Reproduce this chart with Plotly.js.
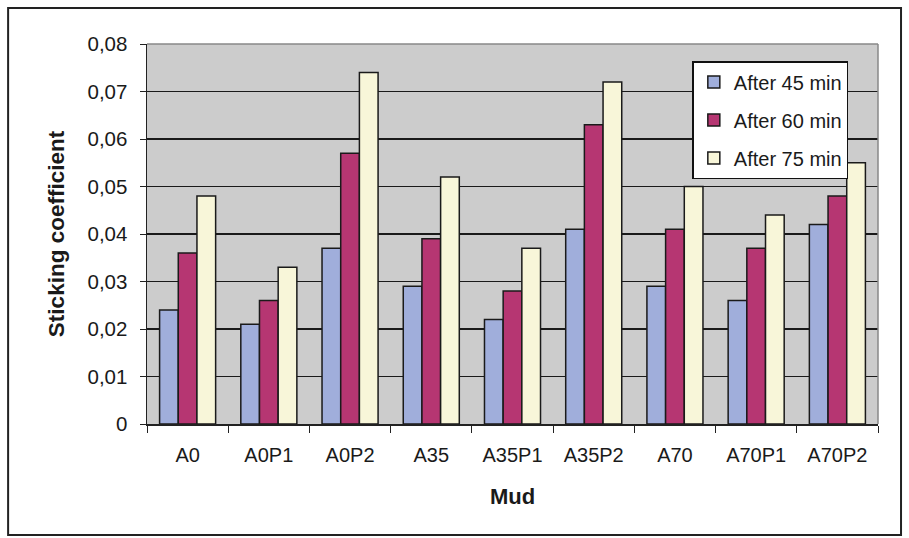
<!DOCTYPE html>
<html><head><meta charset="utf-8">
<script src="https://cdn.plot.ly/plotly-3.0.1.min.js"></script>
<style>html,body{margin:0;padding:0;background:#fff}#c{width:909px;height:538px}</style>
</head><body><div id="c"></div>
<script>
const categories = ["A0","A0P1","A0P2","A35","A35P1","A35P2","A70","A70P1","A70P2"];
const after45 = [0.024,0.021,0.037,0.029,0.022,0.041,0.029,0.026,0.042];
const after60 = [0.036,0.026,0.057,0.039,0.028,0.063,0.041,0.037,0.048];
const after75 = [0.048,0.033,0.074,0.052,0.037,0.072,0.050,0.044,0.055];
const seriesNames = ["After 45 min","After 60 min","After 75 min"];
const yTickVals = [0,0.01,0.02,0.03,0.04,0.05,0.06,0.07,0.08];
const yTickText = ["0","0,01","0,02","0,03","0,04","0,05","0,06","0,07","0,08"];
const colors = ["#A0AEDB","#B63672","#F8F6D9"];
const vals = [after45, after60, after75];
const traces = vals.map((v,i)=>({type:"bar",x:categories,y:v,name:seriesNames[i],legendgroup:"g"+i,
  marker:{color:colors[i],line:{color:"#1a1a1a",width:1.5}}}));
const font = "Liberation Sans, Arial, sans-serif";
const layout = {
  width:909,height:538,
  margin:{l:147,r:31,t:44,b:114},
  paper_bgcolor:"#fff",plot_bgcolor:"#CCCCCC",
  barmode:"group",bargap:0.31,bargroupgap:0,
  font:{family:font,color:"#1a1a1a",size:20},
  xaxis:{type:"category",showline:true,linecolor:"#222",linewidth:1.5,mirror:false,
    ticks:"outside",tickson:"boundaries",ticklen:7,tickcolor:"#222",ticklabelstandoff:12,
    tickfont:{size:20,family:font,color:"#1a1a1a"},
    title:{text:"<b>Mud</b>",font:{size:22,family:font,color:"#1a1a1a"},standoff:24}},
  yaxis:{range:[0,0.08],tickvals:yTickVals,ticktext:yTickText,showline:true,linecolor:"#222",linewidth:1.5,
    ticks:"outside",ticklen:6,tickcolor:"#222",ticklabelstandoff:8,showgrid:true,gridcolor:"#1a1a1a",gridwidth:1.8,
    zeroline:false,tickfont:{size:20.5,family:font,color:"#1a1a1a"},
    title:{text:"<b>Sticking coefficient</b>",font:{size:22.5,family:font,color:"#1a1a1a"},standoff:16}},
  legend:{x:0.746,y:0.955,xanchor:"left",yanchor:"top",bgcolor:"#fff",bordercolor:"#111",borderwidth:1.5,
    font:{size:20,family:font,color:"#1a1a1a"},tracegroupgap:9,itemwidth:30,traceorder:"grouped"},
  shapes:[{type:"rect",xref:"paper",yref:"paper",x0:-0.190,x1:1.0315,y0:-0.292,y1:1.0947,
    line:{color:"#222",width:2},fillcolor:"rgba(0,0,0,0)",layer:"below"},
    {type:"line",xref:"paper",yref:"paper",x0:0,x1:1,y0:1,y1:1,line:{color:"#888",width:1.5}},
    {type:"line",xref:"paper",yref:"paper",x0:1,x1:1,y0:0,y1:1,line:{color:"#888",width:1.5}}]
};
Plotly.newPlot("c",traces,layout,{displayModeBar:false,staticPlot:true});
</script></body></html>
